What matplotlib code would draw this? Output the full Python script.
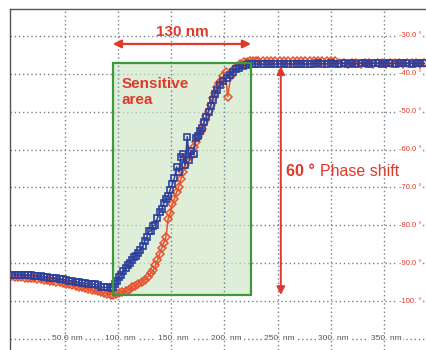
import matplotlib
matplotlib.use("Agg")
import matplotlib.pyplot as plt
from matplotlib.patches import Rectangle

plt.rcParams['font.family'] = ['Liberation Sans', 'DejaVu Sans']

# ---- data: scan position (nm) and phase (degrees) ----
blue_x = [0, 3, 6, 9, 12, 15, 18, 21, 24, 27, 30, 33, 36, 39, 42, 45, 48, 51, 54, 57,
          60, 63, 66, 69, 72, 75, 78, 81, 84, 87, 90, 93,
          95, 97, 99, 101, 103, 105, 107, 109, 111, 113, 115, 117, 119, 121, 123, 125,
          127, 129, 131, 133, 135, 137, 139, 141, 143, 145, 147, 149, 151, 153, 155,
          157, 159, 161, 163, 165, 167, 169, 171, 173, 175, 177, 179, 181, 183, 185,
          187, 189, 191, 193, 196, 199, 202, 205, 208, 211, 214, 217, 220, 223, 226, 229,
          232, 236, 240, 244, 248, 252, 256, 260, 264, 268, 272, 276, 280, 284, 288, 292,
          296, 300, 304, 308, 312, 316, 320, 324, 328, 332, 336, 340, 344, 348, 352, 356,
          360, 364, 368, 372, 376, 380, 384, 388]
blue_phase = [-93.0, -93.0, -93.1, -93.0, -93.1, -93.1, -93.2, -93.3, -93.4, -93.4,
              -93.6, -93.7, -93.8, -93.9, -94.0, -94.2, -94.3, -94.4, -94.6, -94.7,
              -94.9, -95.0, -95.2, -95.3, -95.4, -95.5, -95.6, -95.8, -96.3, -96.4,
              -96.4, -96.5,
              -96.4, -95.6, -94.8, -93.6, -93.0, -92.0, -91.4, -90.6, -90.0, -89.2,
              -88.4, -88.0, -87.2, -86.4, -85.6, -84.2, -83.0, -81.6, -81.4, -80.2,
              -79.8, -78.0, -76.6, -75.8, -74.2, -73.0, -72.2, -70.6, -69.2, -67.4,
              -64.6, -65.8, -62.0, -61.2, -64.2, -56.6, -62.8, -60.4, -61.2, -57.0,
              -56.4, -55.0, -54.2, -52.6, -51.4, -50.0, -48.6, -46.8, -45.4, -44.2,
              -43.0, -41.8, -41.0, -40.2, -39.4, -38.8, -38.4, -38.0, -37.7, -37.5,
              -37.4, -37.4,
              -37.5, -37.4, -37.5, -37.4, -37.4, -37.3, -37.4, -37.3, -37.4, -37.3,
              -37.3, -37.4, -37.3, -37.3, -37.2, -37.3, -37.3, -37.2, -37.3, -37.3,
              -37.2, -37.3, -37.2, -37.3, -37.2, -37.2, -37.3, -37.2, -37.2, -37.3,
              -37.2, -37.2, -37.3, -37.2, -37.2, -37.2, -37.3, -37.2, -37.2, -37.2]

red_x = [0, 3, 6, 9, 12, 15, 18, 21, 24, 27, 30, 33, 36, 39, 42, 45, 48, 51, 54, 57,
         60, 63, 66, 69, 72, 75, 78, 81, 84, 87, 90, 93,
         95, 98, 101, 104, 107, 110, 113, 116, 119, 122, 125, 128, 131, 133, 135, 137,
         139, 141, 143, 145, 147, 149, 151, 153, 155, 157, 159, 161, 163, 165, 167,
         169, 171, 173, 175, 177, 179, 181, 183, 185, 187, 189, 191, 193, 195, 197,
         199, 201, 203, 206, 209, 212, 215, 218, 221, 224, 227, 230,
         232, 236, 240, 244, 248, 252, 256, 260, 264, 268, 272, 276, 280, 284, 288, 292,
         296, 300, 304, 308, 312, 316, 320, 324, 328, 332, 336, 340, 344, 348, 352, 356,
         360, 364, 368, 372, 376, 380, 384, 388]
red_phase = [-93.5, -93.6, -93.6, -93.7, -93.8, -93.8, -93.9, -94.0, -94.1, -94.2,
             -94.4, -94.5, -94.7, -94.8, -95.0, -95.1, -95.3, -95.4, -95.6, -95.8,
             -96.0, -96.2, -96.4, -96.6, -96.8, -97.0, -97.2, -97.4, -97.7, -97.9,
             -98.1, -98.3,
             -98.4, -98.2, -97.9, -97.6, -97.4, -97.0, -96.4, -96.0, -95.4, -95.0,
             -94.4, -93.6, -92.6, -91.8, -90.6, -89.2, -87.6, -86.0, -84.6, -83.0,
             -78.4, -76.8, -74.4, -73.0, -71.2, -69.8, -67.8, -66.0, -64.2, -62.4,
             -60.8, -61.6, -59.4, -58.0, -56.8, -55.6, -54.6, -52.8, -51.2, -49.8,
             -48.2, -46.4, -45.0, -43.6, -42.4, -41.8, -40.6, -39.6, -46.0, -40.6,
             -38.8, -38.2, -37.4, -37.0, -36.8, -36.7, -36.6, -36.6,
             -36.7, -36.6, -36.7, -36.6, -36.6, -36.7, -36.6, -36.6, -36.7, -36.6,
             -36.6, -36.7, -36.6, -36.7, -36.6, -36.7, -36.6, -36.7, -36.7, -37.2,
             -37.2, -37.3, -37.2, -37.2, -37.3, -37.2, -37.2, -37.3, -37.2, -37.2,
             -37.3, -37.2, -37.2, -37.2, -37.3, -37.2, -37.2, -37.2, -37.3, -37.2]

x_ticks = [50, 100, 150, 200, 250, 300, 350]
x_tick_labels = ["50.0 nm", "100. nm", "150. nm", "200. nm", "250. nm", "300. nm", "350. nm"]
y_ticks = [-30, -40, -50, -60, -70, -80, -90, -100, -110]
y_tick_labels = ["-30.0 °", "-40.0 °", "-50.0 °", "-60.0 °", "-70.0 °", "-80.0 °",
                 "-90.0 °", "-100. °", ""]

# sensitive window and phase span
area_start, area_end = 95, 225
phase_top, phase_bottom = -37.2, -98.4

RED = "#e0392b"
BLUE = "#2b3f9c"
ORANGE = "#e8532f"
GRID = "#72838e"
GREEN = "#3c9a3c"

fig = plt.figure(figsize=(4.27, 3.5), dpi=100)
ax = fig.add_axes([10 / 427, 0, 417 / 427, 341 / 350])
ax.set_xlim(-1.7, 390.5)
ax.set_ylim(-112.94, -22.87)
ax.set_xticks([])
ax.set_yticks([])
for side in ("right", "bottom"):
    ax.spines[side].set_visible(False)
for side in ("left", "top"):
    ax.spines[side].set_color("#555555")
    ax.spines[side].set_linewidth(1.0)

# dotted grid
for yv in y_ticks:
    ax.axhline(yv, color=GRID, lw=1.0, ls=(0, (1, 2)), zorder=1)
for xv in x_ticks:
    ax.axvline(xv, color=GRID, lw=1.0, ls=(0, (1, 2)), zorder=3)

# tick labels drawn inline on the grid
for xv, lab in zip(x_ticks, x_tick_labels):
    ax.text(xv + 2, -110, lab, ha="center", va="center", fontsize=6, color="#555555",
            zorder=2, bbox=dict(boxstyle="square,pad=0.25", fc="white", ec="none"))
for yv, lab in zip(y_ticks, y_tick_labels):
    if lab:
        ax.text(364, yv, lab, ha="left", va="center", fontsize=5.5, color=RED,
                zorder=2, bbox=dict(boxstyle="square,pad=0.2", fc="white", ec="none"))

# sensitive area box
ax.add_patch(Rectangle((area_start, phase_bottom), area_end - area_start,
                       phase_top - phase_bottom, facecolor="#cfe6c6", alpha=0.65,
                       edgecolor="none", zorder=2))
ax.add_patch(Rectangle((area_start, phase_bottom), area_end - area_start,
                       phase_top - phase_bottom, facecolor="none",
                       edgecolor=GREEN, lw=1.6, zorder=6))

# measured curves
ax.plot(red_x, red_phase, color=ORANGE, lw=1.1, marker="D", markersize=3.8,
        markerfacecolor="none", markeredgecolor=ORANGE, markeredgewidth=1.1, zorder=4)
ax.plot(blue_x, blue_phase, color=BLUE, lw=1.1, marker="s", markersize=3.8,
        markerfacecolor="none", markeredgecolor=BLUE, markeredgewidth=1.2, zorder=5)

# annotations
ax.annotate("", xy=(area_end, -32.1), xytext=(area_start, -32.1),
            arrowprops=dict(arrowstyle="<|-|>", color=RED, lw=1.6,
                            mutation_scale=12, shrinkA=0, shrinkB=0), zorder=7)
ax.text((area_start + area_end) / 2, -29.0, f"{area_end - area_start} nm", ha="center",
        va="center", fontsize=11, fontweight="bold", color=RED, zorder=7)

ax.annotate("", xy=(253, phase_top - 0.8), xytext=(253, phase_bottom),
            arrowprops=dict(arrowstyle="<|-|>", color=RED, lw=1.4,
                            mutation_scale=12, shrinkA=0, shrinkB=0), zorder=7)
ax.text(257.5, -65.8, "60 °", ha="left", va="center", fontsize=11.5,
        fontweight="bold", color=RED, zorder=7)
ax.text(289.5, -65.8, "Phase shift", ha="left", va="center", fontsize=11.5,
        color=RED, zorder=7)

ax.text(103, -40.8, "Sensitive\narea", ha="left", va="top", fontsize=11,
        fontweight="bold", color=RED, linespacing=1.15, zorder=7)

fig.savefig("out.png", dpi=100)
